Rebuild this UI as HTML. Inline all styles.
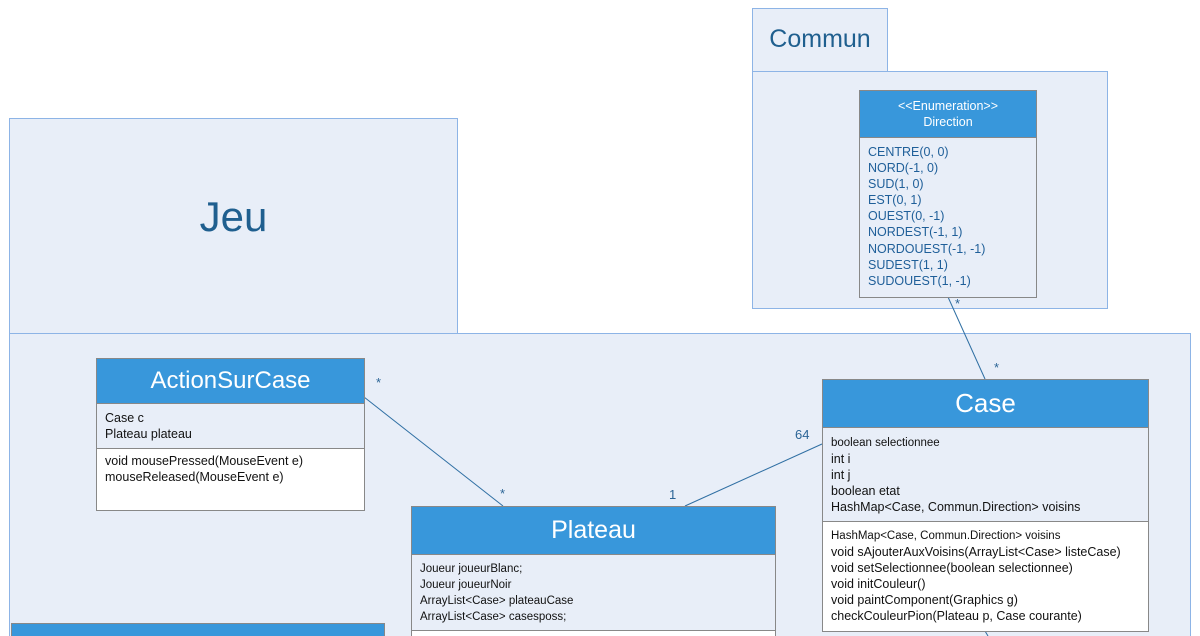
<!DOCTYPE html>
<html style="width:1200px;height:636px;overflow:hidden"><head><meta charset="utf-8"><style>
*{box-sizing:border-box}
body{margin:0;width:1200px;height:636px;overflow:hidden;background:#fff;position:relative;font-family:"Liberation Sans",sans-serif}
.a{position:absolute}
.pkg{background:#e8eef8;border:1px solid #8db4e6}
.cls{border:1px solid #888;background:#fff;overflow:hidden}
.hd{background:#3897db;color:#fff;text-align:center;border-bottom:1px solid #888}
.at{background:#e8eef8;border-bottom:1px solid #888;font-size:12.5px;color:#111;line-height:16px;padding:4px 8px}
.op{font-size:12.5px;color:#111;line-height:16px;padding:4px 8px}
.lbl{position:absolute;font-size:13px;color:#2b6496}
</style></head><body>
<div class="a pkg" style="left:752px;top:8px;width:136px;height:64px"></div>
<div class="a pkg" style="left:752px;top:71px;width:356px;height:238px"></div>
<div class="a" style="left:752px;top:25px;width:136px;text-align:center;font-size:25px;color:#1f5f8f">Commun</div>
<div class="a pkg" style="left:9px;top:118px;width:449px;height:216px"></div>
<div class="a pkg" style="left:9px;top:333px;width:1182px;height:310px"></div>
<div class="a" style="left:9px;top:193px;width:449px;text-align:center;font-size:42px;color:#1f5f8f">Jeu</div>
<svg class="a" style="left:0;top:0" width="1200" height="636">
<g stroke="#2f6fa3" stroke-width="1" fill="none">
<line x1="364" y1="397" x2="503" y2="506"/>
<line x1="685" y1="506" x2="822" y2="444"/>
<line x1="948" y1="297" x2="985" y2="379"/>
<line x1="985" y1="631" x2="988" y2="636"/>
</g></svg>
<div class="lbl" style="left:376px;top:375px">*</div>
<div class="lbl" style="left:500px;top:486px">*</div>
<div class="lbl" style="left:669px;top:487px">1</div>
<div class="lbl" style="left:795px;top:427px">64</div>
<div class="lbl" style="left:955px;top:296px">*</div>
<div class="lbl" style="left:994px;top:360px">*</div>
<div class="a cls" style="left:859px;top:90px;width:178px;height:208px;background:#e8eef8">
<div class="hd" style="height:47px;font-size:12.5px;line-height:16px;padding-top:7px">&lt;&lt;Enumeration&gt;&gt;<br>Direction</div>
<div style="padding:6px 8px;font-size:12.5px;line-height:16.1px;color:#1f5f99">CENTRE(0, 0)<br>NORD(-1, 0)<br>SUD(1, 0)<br>EST(0, 1)<br>OUEST(0, -1)<br>NORDEST(-1, 1)<br>NORDOUEST(-1, -1)<br>SUDEST(1, 1)<br>SUDOUEST(1, -1)</div>
</div>
<div class="a cls" style="left:96px;top:358px;width:269px;height:153px">
<div class="hd" style="height:45px;font-size:24px;line-height:44px">ActionSurCase</div>
<div class="at" style="height:45px;padding-top:6px">Case c<br>Plateau plateau</div>
<div class="op">void mousePressed(MouseEvent e)<br>mouseReleased(MouseEvent e)</div>
</div>
<div class="a cls" style="left:411px;top:506px;width:365px;height:140px">
<div class="hd" style="height:48px;font-size:25px;line-height:47px">Plateau</div>
<div class="at" style="height:76px;font-size:11.5px;padding-top:6px">Joueur joueurBlanc;<br>Joueur joueurNoir<br>ArrayList&lt;Case&gt; plateauCase<br>ArrayList&lt;Case&gt; casesposs;</div>
</div>
<div class="a cls" style="left:822px;top:379px;width:327px;height:253px">
<div class="hd" style="height:48px;font-size:26px;line-height:46px">Case</div>
<div class="at" style="height:94px;padding-top:6px"><span style="font-size:11.5px">boolean selectionnee</span><br>int i<br>int j<br>boolean etat<br>HashMap&lt;Case, Commun.Direction&gt; voisins</div>
<div class="op" style="padding-top:5px"><span style="font-size:11.5px">HashMap&lt;Case, Commun.Direction&gt; voisins</span><br>void sAjouterAuxVoisins(ArrayList&lt;Case&gt; listeCase)<br>void setSelectionnee(boolean selectionnee)<br>void initCouleur()<br>void paintComponent(Graphics g)<br>checkCouleurPion(Plateau p, Case courante)</div>
</div>
<div class="a" style="left:11px;top:623px;width:374px;height:30px;background:#3897db;border:1px solid #888;overflow:hidden">
<div style="text-align:center;color:#fff;font-size:26px;line-height:26px;margin-top:16px">Ecouteur</div>
</div>
</body></html>
